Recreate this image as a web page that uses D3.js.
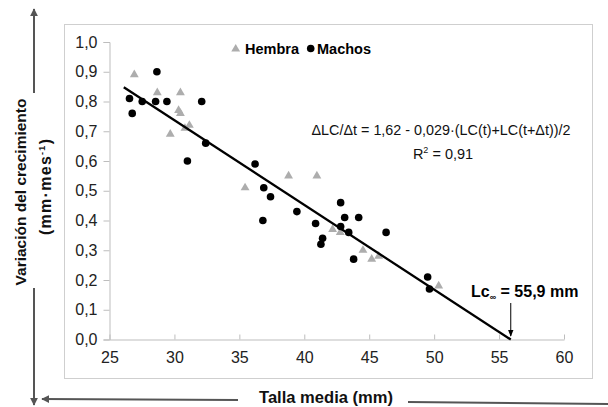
<!DOCTYPE html>
<html><head><meta charset="utf-8">
<script src="https://cdn.jsdelivr.net/npm/d3@7"></script>
<style>
html,body{margin:0;padding:0;background:#fff;}
svg{display:block;font-family:"Liberation Sans",Arial,sans-serif;}
</style></head>
<body><svg id="c" width="608" height="407"></svg>
<script>
// ---- data ----
const xTicks = [25, 30, 35, 40, 45, 50, 55, 60];
const yTicks = [0, 0.1, 0.2, 0.3, 0.4, 0.5, 0.6, 0.7, 0.8, 0.9, 1.0];
const machosX = [26.54, 26.75, 27.52, 28.65, 28.55, 29.42, 32.10, 32.41, 31.00, 36.21, 36.88, 37.40, 36.81, 39.43, 40.87, 41.41, 41.28, 42.80, 43.11, 44.19, 42.80, 43.42, 46.30, 43.80, 49.50, 49.64];
const machosY = [0.81, 0.76, 0.80, 0.90, 0.80, 0.80, 0.80, 0.66, 0.60, 0.59, 0.51, 0.48, 0.40, 0.43, 0.39, 0.34, 0.32, 0.46, 0.41, 0.41, 0.38, 0.36, 0.36, 0.27, 0.21, 0.17];
const hembraX = [26.91, 28.68, 30.46, 30.32, 30.46, 31.15, 30.81, 29.68, 35.44, 38.79, 40.97, 42.18, 42.77, 44.52, 45.19, 45.73, 50.35];
const hembraY = [0.89, 0.83, 0.83, 0.77, 0.76, 0.72, 0.71, 0.69, 0.51, 0.55, 0.55, 0.37, 0.36, 0.30, 0.27, 0.28, 0.18];
const fitX = [26.1, 55.9];
const fitY = [0.848, 0.0];
const lcInf = 55.9;

const svg = d3.select("#c");
const x = d3.scaleLinear().domain([25, 60]).range([109.5, 564]);
const y = d3.scaleLinear().domain([0, 1]).range([339.5, 42]);
const fmt = d => d3.format(".1f")(d).replace(".", ",");

// chart frame
svg.append("rect").attr("x", 64.5).attr("y", 24.5).attr("width", 528).attr("height", 354)
  .attr("fill", "#fff").attr("stroke", "#cfcfcf").attr("stroke-width", 1);

// y axis
const yAx = svg.append("g").attr("transform", `translate(${x(25)},0)`)
  .call(d3.axisLeft(y).tickValues(yTicks).tickFormat(fmt).tickSize(6).tickPadding(6));
yAx.select(".domain").attr("stroke", "#bdbdbd");
yAx.selectAll(".tick line").attr("stroke", "#bdbdbd");
yAx.selectAll(".tick text").attr("font-size", 16).attr("fill", "#222")
  .attr("font-family", "Liberation Sans, Arial, sans-serif");

// x axis
const xAx = svg.append("g").attr("transform", `translate(0,${y(0)})`)
  .call(d3.axisBottom(x).tickValues(xTicks).tickFormat(d3.format("d")).tickSizeInner(-5).tickSizeOuter(0).tickPadding(12));
xAx.select(".domain").attr("stroke", "#bdbdbd");
xAx.selectAll(".tick line").attr("stroke", "#bdbdbd");
xAx.selectAll(".tick text").attr("font-size", 16).attr("fill", "#222")
  .attr("font-family", "Liberation Sans, Arial, sans-serif");

// points
const hembra = hembraX.map((v, i) => [v, hembraY[i]]);
const machos = machosX.map((v, i) => [v, machosY[i]]);
const tri = d3.symbol().type(d3.symbolTriangle).size(34);
svg.append("g").selectAll("path").data(hembra).join("path")
  .attr("d", tri).attr("transform", d => `translate(${x(d[0])},${y(d[1])})`)
  .attr("fill", "#adadad");
svg.append("g").selectAll("circle").data(machos).join("circle")
  .attr("cx", d => x(d[0])).attr("cy", d => y(d[1])).attr("r", 3.8).attr("fill", "#000");

// regression line
svg.append("line").attr("x1", x(fitX[0])).attr("y1", y(fitY[0]))
  .attr("x2", x(fitX[1])).attr("y2", y(fitY[1]))
  .attr("stroke", "#000").attr("stroke-width", 2.3);

// legend
svg.append("path").attr("d", tri).attr("transform", "translate(235.7,49)").attr("fill", "#adadad");
svg.append("text").attr("x", 245).attr("y", 54).attr("font-size", 14.5).attr("font-weight", "bold").text("Hembra");
svg.append("circle").attr("cx", 310.7).attr("cy", 48.5).attr("r", 3.8).attr("fill", "#000");
svg.append("text").attr("x", 317).attr("y", 54).attr("font-size", 14.5).attr("font-weight", "bold").text("Machos");

// equation
svg.append("text").attr("x", 441).attr("y", 135).attr("text-anchor", "middle")
  .attr("font-size", 14.5).attr("fill", "#111").attr("textLength", 259).attr("lengthAdjust", "spacingAndGlyphs")
  .text("ΔLC/Δt = 1,62 - 0,029·(LC(t)+LC(t+Δt))/2");
const r2 = svg.append("text").attr("x", 443).attr("y", 159).attr("text-anchor", "middle")
  .attr("font-size", 14.5).attr("fill", "#111");
r2.append("tspan").text("R");
r2.append("tspan").attr("dy", -6).attr("font-size", 9).text("2");
r2.append("tspan").attr("dy", 6).text(" = 0,91");

// Lc_inf annotation
const lc = svg.append("text").attr("x", 471).attr("y", 297).attr("font-size", 16).attr("font-weight", "bold");
lc.append("tspan").text("Lc");
lc.append("tspan").attr("dy", 3).attr("font-size", 9).text("∞");
lc.append("tspan").attr("dy", -3).text(" = " + fmt(lcInf) + " mm");
svg.append("defs").append("marker").attr("id", "ah").attr("viewBox", "0 0 10 10")
  .attr("refX", 9).attr("refY", 5).attr("markerWidth", 7).attr("markerHeight", 7).attr("orient", "auto")
  .append("path").attr("d", "M0,1 L10,5 L0,9 Z").attr("fill", "#000");
svg.append("line").attr("x1", x(lcInf)).attr("x2", x(lcInf)).attr("y1", 303).attr("y2", 336)
  .attr("stroke", "#000").attr("stroke-width", 1).attr("marker-end", "url(#ah)");

// outer axis titles with arrow lines
svg.select("defs").append("marker").attr("id", "ag").attr("viewBox", "0 0 10 10")
  .attr("refX", 9).attr("refY", 5).attr("markerWidth", 4).attr("markerHeight", 4).attr("orient", "auto")
  .append("path").attr("d", "M0,0 L10,5 L0,10 Z").attr("fill", "#555");
const gl = "#555";
svg.append("line").attr("x1", 34).attr("x2", 34).attr("y1", 93).attr("y2", 9)
  .attr("stroke", gl).attr("stroke-width", 2).attr("marker-end", "url(#ag)");
svg.append("line").attr("x1", 34).attr("x2", 34).attr("y1", 288).attr("y2", 405)
  .attr("stroke", gl).attr("stroke-width", 2).attr("marker-end", "url(#ag)");
svg.append("line").attr("x1", 238).attr("x2", 42).attr("y1", 400).attr("y2", 399)
  .attr("stroke", gl).attr("stroke-width", 2).attr("marker-end", "url(#ag)");
svg.append("line").attr("x1", 408).attr("x2", 608).attr("y1", 402).attr("y2", 404)
  .attr("stroke", gl).attr("stroke-width", 2);

svg.append("text").attr("x", 326).attr("y", 403).attr("text-anchor", "middle")
  .attr("font-size", 16).attr("font-weight", "bold").attr("fill", "#111")
  .attr("textLength", 134).attr("lengthAdjust", "spacingAndGlyphs").text("Talla media (mm)");

svg.append("text").attr("transform", "translate(26,192) rotate(-90)").attr("text-anchor", "middle")
  .attr("font-size", 15.5).attr("font-weight", "bold").attr("fill", "#111").text("Variación del crecimiento");
const t2 = svg.append("text").attr("transform", "translate(51,187) rotate(-90)").attr("text-anchor", "middle")
  .attr("font-size", 16).attr("font-weight", "bold").attr("fill", "#111")
  .attr("textLength", 96).attr("lengthAdjust", "spacing");
t2.append("tspan").text("(mm·mes");
t2.append("tspan").attr("dy", -6).attr("font-size", 9).text("-1");
t2.append("tspan").attr("dy", 6).text(")");
</script></body></html>
